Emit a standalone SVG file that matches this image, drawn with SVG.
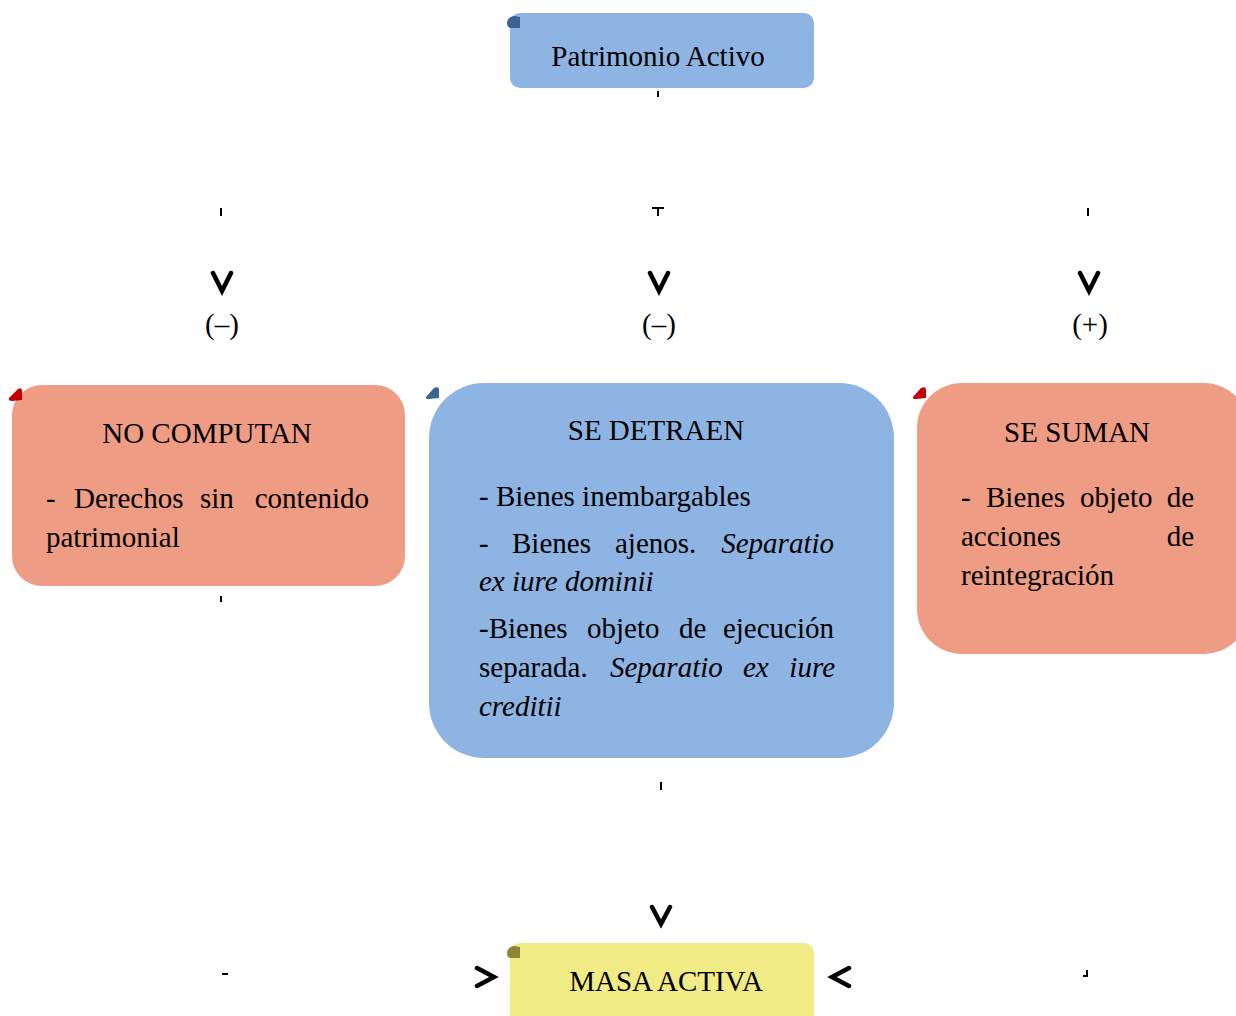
<svg xmlns="http://www.w3.org/2000/svg" width="1236" height="1016" viewBox="0 0 1236 1016">
<style>
text{font-family:"Liberation Serif","Times New Roman",serif;font-size:29px;fill:#000}
.i{font-style:italic}
.e{text-anchor:end}
.blue{fill:#8EB4E3}
.red{fill:#EE9C84}
.yel{fill:#F0EB84}
.tick{stroke:#000;stroke-width:2;fill:none}
.chev{stroke:#000;stroke-width:4.5;fill:none;stroke-linecap:round;stroke-linejoin:miter}
</style>
<rect width="1236" height="1016" fill="#fff"/>
<g id="patrimonio">
<rect class="blue" x="510" y="13" width="304" height="75" rx="10"/>
<path d="M507 23 Q508 16 515 16 L520 17 L520 28 L510 28 Q507 27 507 23Z" fill="#3A6496"/>
<text x="658" y="66" text-anchor="middle">Patrimonio Activo</text>
</g>
<g id="nocomputan">
<rect class="red" x="12" y="385" width="393" height="201" rx="30"/>
<path d="M9 398 L18 389 Q22 387 22 391 L22 400 L12 401 Q8 401 9 398Z" fill="#C00000"/>
<text x="207" y="443" text-anchor="middle">NO COMPUTAN</text>
<text y="508"><tspan x="46">-</tspan><tspan x="74">Derechos</tspan><tspan x="200">sin</tspan><tspan x="369" class="e">contenido</tspan></text>
<text x="46" y="547">patrimonial</text>
</g>
<g id="sedetraen">
<rect class="blue" x="429" y="383" width="465" height="375" rx="55"/>
<path d="M426 397 L434 388 Q439 386 439 390 L439 398 L429 399 Q425 399 426 397Z" fill="#3A6496"/>
<text x="656" y="440" text-anchor="middle">SE DETRAEN</text>
<text x="479" y="506">- Bienes inembargables</text>
<text y="553"><tspan x="479">-</tspan><tspan x="512">Bienes</tspan><tspan x="615">ajenos.</tspan><tspan x="834" class="i e">Separatio</tspan></text>
<text x="479" y="591" class="i">ex iure dominii</text>
<text y="638"><tspan x="479">-Bienes</tspan><tspan x="587">objeto</tspan><tspan x="679">de</tspan><tspan x="834" class="e">ejecución</tspan></text>
<text y="677"><tspan x="479">separada.</tspan><tspan x="610" class="i">Separatio</tspan><tspan x="743" class="i">ex</tspan><tspan x="835" class="i e">iure</tspan></text>
<text x="479" y="716" class="i">creditii</text>
</g>
<g id="sesuman">
<rect class="red" x="917" y="383" width="332" height="271" rx="45"/>
<path d="M913 397 L921 388 Q926 386 926 390 L926 398 L916 399 Q912 399 913 397Z" fill="#C00000"/>
<text x="1077" y="442" text-anchor="middle">SE SUMAN</text>
<text y="507"><tspan x="961">-</tspan><tspan x="986">Bienes</tspan><tspan x="1080">objeto</tspan><tspan x="1194" class="e">de</tspan></text>
<text y="546"><tspan x="961">acciones</tspan><tspan x="1194" class="e">de</tspan></text>
<text x="961" y="585">reintegración</text>
</g>
<g id="masaactiva">
<rect class="yel" x="510" y="943" width="304" height="90" rx="10"/>
<path d="M507 953 Q508 946 515 946 L520 947 L520 958 L510 958 Q507 957 507 953Z" fill="#8F8438"/>
<text x="666" y="991" text-anchor="middle">MASA ACTIVA</text>
</g>
<g id="connectors">
<path class="tick" d="M658 91V97 M221 208V216 M652 208H664 M658 208V216 M1088 208V216 M221 596V602 M661 782V790 M222 974H228 M1083 976H1087 V970"/>
<path class="chev" d="M213 273L222 291L231 273 M650 273L659 291L668 273 M1080 273L1089 291L1098 273 M652 907L661 924L670 907 M477 968L494 977L477 986 M849 968L832 977L849 986"/>
<text x="222" y="334" text-anchor="middle">(–)</text>
<text x="659" y="334" text-anchor="middle">(–)</text>
<text x="1090" y="334" text-anchor="middle">(+)</text>
</g>
</svg>
